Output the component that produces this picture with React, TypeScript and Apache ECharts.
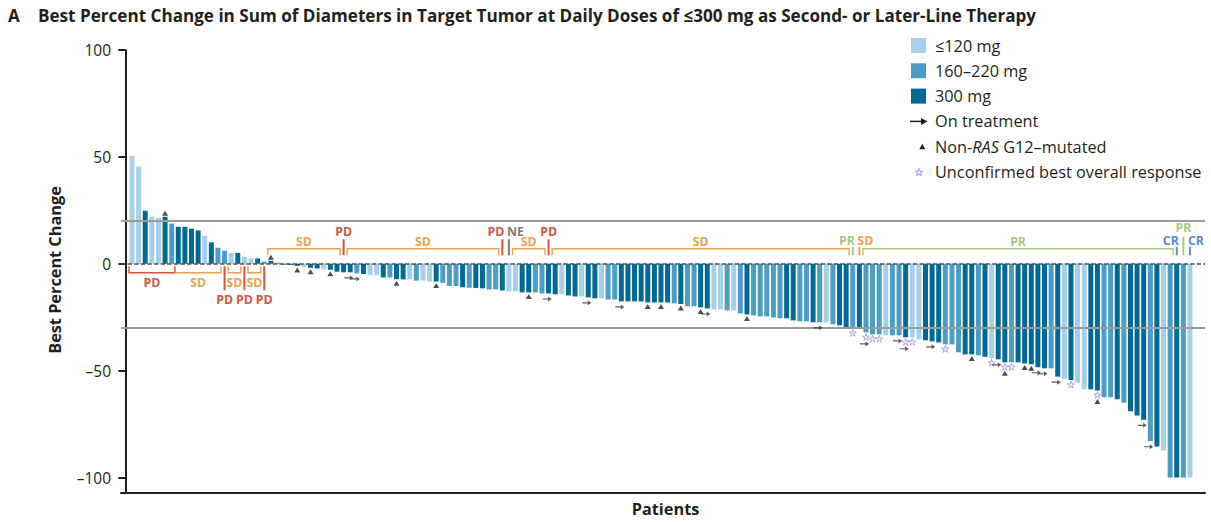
import React, { useEffect, useRef } from "react";
import * as echarts from "echarts";

// ---- data -------------------------------------------------------------
const bestChange: number[] = [
  50.5, 45.5, 24.8, 22.0, 21.5, 22.0, 18.8, 17.3, 17.3, 16.4,
  15.6, 13.1, 10.0, 7.5, 6.1, 5.1, 5.1, 3.3, 2.5, 2.5,
  1.0, 1.4, 0.5, -0.4, -0.5, -1.0, -1.6, -1.9, -2.2, -2.6,
  -2.8, -3.7, -4.0, -4.0, -4.5, -4.8, -5.3, -5.3, -6.4, -6.4,
  -7.2, -7.3, -7.3, -7.9, -7.9, -8.3, -8.3, -8.9, -10.4, -10.4,
  -11.0, -11.2, -11.3, -11.5, -12.0, -12.0, -12.5, -12.9, -12.9, -13.4,
  -13.4, -13.4, -13.9, -13.9, -14.3, -14.3, -14.8, -15.3, -15.3, -15.7,
  -16.2, -16.2, -16.7, -16.7, -17.6, -17.6, -17.6, -17.6, -18.1, -18.1,
  -18.1, -18.1, -18.5, -18.8, -19.9, -19.9, -20.4, -20.9, -21.3, -21.3,
  -21.8, -21.8, -23.2, -23.7, -24.1, -24.6, -24.6, -25.1, -25.5, -25.5,
  -26.5, -26.9, -26.9, -27.4, -27.4, -27.4, -28.3, -28.8, -29.8, -30.2,
  -30.2, -32.1, -33.0, -33.0, -33.5, -33.5, -33.5, -34.4, -34.4, -35.4,
  -35.8, -36.3, -36.8, -37.7, -37.7, -41.4, -42.4, -42.4, -42.8, -43.5,
  -44.2, -44.7, -46.1, -46.1, -46.1, -46.6, -47.0, -48.4, -48.9, -48.9,
  -52.8, -54.0, -54.4, -55.6, -58.7, -58.7, -59.3, -62.5, -62.5, -63.4,
  -65.0, -69.0, -71.0, -73.0, -83.0, -85.5, -87.4, -100, -100, -100,
  -100,
];

// L = ≤120 mg, M = 160–220 mg, D = 300 mg
const doseGroup: string[] = [
  "L","L","D","L","L","D","M","D","D","D",
  "D","L","D","M","M","L","D","L","L","D",
  "M","D","M","D","D","D","L","D","D","L",
  "D","D","D","D","M","D","L","L","D","M",
  "D","D","L","M","L","L","D","M","M","M",
  "D","M","D","D","M","M","D","L","L","D",
  "D","M","M","D","D","L","D","D","L","D",
  "D","L","M","M","D","D","D","D","D","D",
  "D","D","M","D","M","M","D","D","L","L",
  "M","L","M","D","M","M","M","M","M","D",
  "D","M","M","D","M","L","M","D","D","M",
  "D","M","M","M","L","M","M","D","L","L",
  "D","D","D","M","M","M","D","D","M","D",
  "L","D","D","M","D","D","D","D","D","M",
  "D","L","D","L","L","D","D","M","M","D",
  "M","D","D","D","M","D","L","M","D","M",
  "L",
];

const doseNames: Record<string, string> = { L: "≤120 mg", M: "160–220 mg", D: "300 mg" };

// patient numbers (1-based) carrying markers
const onTreatment: number[] = [34, 35, 64, 70, 75, 88, 105, 112, 117, 118, 122, 132, 138, 139, 141, 154, 155];
const nonRasG12: number[] = [6, 22, 26, 28, 31, 41, 47, 61, 79, 81, 84, 87, 94, 128, 133, 136, 137, 147];
const unconfirmed: number[] = [110, 112, 113, 114, 118, 119, 124, 131, 133, 134, 143, 147];

// best overall response groups: patient ranges
const responseGroups = [
  { from: 1, to: 7, label: "PD", side: "below" },
  { from: 8, to: 14, label: "SD", side: "below" },
  { from: 15, to: 15, label: "PD", side: "below" },
  { from: 16, to: 17, label: "SD", side: "below" },
  { from: 18, to: 18, label: "PD", side: "below" },
  { from: 19, to: 20, label: "SD", side: "below" },
  { from: 21, to: 21, label: "PD", side: "below" },
  { from: 22, to: 32, label: "SD", side: "above" },
  { from: 33, to: 33, label: "PD", side: "above" },
  { from: 34, to: 56, label: "SD", side: "above" },
  { from: 57, to: 57, label: "PD", side: "above", tag: "topLeft" },
  { from: 58, to: 58, label: "NE", side: "above", tag: "topRight" },
  { from: 59, to: 63, label: "SD", side: "above" },
  { from: 64, to: 64, label: "PD", side: "above" },
  { from: 65, to: 109, label: "SD", side: "above" },
  { from: 110, to: 110, label: "PR", side: "above", tag: "lowLeft" },
  { from: 111, to: 111, label: "SD", side: "above", tag: "lowRight" },
  { from: 112, to: 158, label: "PR", side: "above" },
  { from: 159, to: 159, label: "CR", side: "above", tag: "lowLeft" },
  { from: 160, to: 160, label: "PR", side: "above", tag: "high" },
  { from: 161, to: 161, label: "CR", side: "above", tag: "lowRight" },
];

const yTicks: number[] = [-100, -50, 0, 50, 100];
const refLines: number[] = [20, -30];

// ---- styles -----------------------------------------------------------
const doseColors: Record<string, string> = { L: "#a7d0e8", M: "#4c9cc4", D: "#016a94" };
const responseColors: Record<string, string> = {
  PD: "#d0573e",
  SD: "#e9a34d",
  PR: "#a7ca80",
  CR: "#5c8bc8",
  NE: "#7a7a7a",
};
const INK = "#231f20";
const FONT = "'Open Sans', 'Noto Sans', sans-serif";

const STAR_PATH = "path://M50,0 L61,35 L98,35 L68,57 L79,91 L50,70 L21,91 L32,57 L2,35 L39,35 Z";
const ARROW_PATH = "path://M0,4.1 L11,4.1 L11,1 L18,5 L11,9 L11,5.9 L0,5.9 Z";

function starPoints(cx: number, cy: number, R: number, r: number): number[][] {
  const pts: number[][] = [];
  for (let k = 0; k < 10; k++) {
    const a = -Math.PI / 2 + (k * Math.PI) / 5;
    const rad = k % 2 === 0 ? R : r;
    pts.push([cx + rad * Math.cos(a), cy + rad * Math.sin(a)]);
  }
  return pts;
}

function txt(x: number, y: number, text: string, opts: any = {}) {
  return {
    type: "text",
    x,
    y,
    silent: true,
    style: {
      text,
      fill: opts.fill || INK,
      font: opts.font || `16.3px ${FONT}`,
      textAlign: opts.align || "left",
      align: opts.align || "left",
      textVerticalAlign: "middle",
      verticalAlign: "middle",
      rich: opts.rich,
    },
    rotation: opts.rotation || 0,
  };
}

function buildOption() {
  const barData = bestChange.map((v, i) => ({
    value: [i + 1, v],
    itemStyle: { color: doseColors[doseGroup[i]] },
  }));

  const triData = nonRasG12.map((n) => {
    const v = bestChange[n - 1];
    const below = unconfirmed.includes(n) ? 11 : 4;
    return { value: [n, v], symbolOffset: [0, v > 0 ? -3.5 : below] };
  });
  const starData = unconfirmed.map((n) => ({ value: [n, bestChange[n - 1]], symbolOffset: [0, 4.5] }));
  const arrowData = onTreatment.map((n) => {
    const stacked = unconfirmed.includes(n) || nonRasG12.includes(n);
    return { value: [n, bestChange[n - 1]], symbolOffset: [-1.5, stacked ? 11.5 : 5.5] };
  });

  const legendRows = [45.5, 70.8, 96.1, 121.4, 146.7, 172];
  const legendEls: any[] = [];
  ["L", "M", "D"].forEach((g, k) => {
    legendEls.push({
      type: "rect",
      shape: { x: 911, y: legendRows[k] - 7.5, width: 15, height: 15 },
      style: { fill: doseColors[g] },
      silent: true,
    });
    legendEls.push(txt(935, legendRows[k], doseNames[g]));
  });
  legendEls.push({
    type: "line",
    shape: { x1: 910, y1: legendRows[3], x2: 923, y2: legendRows[3] },
    style: { stroke: INK, lineWidth: 1.5 },
    silent: true,
  });
  legendEls.push({
    type: "polygon",
    shape: { points: [[921, legendRows[3] - 3.5], [927.5, legendRows[3]], [921, legendRows[3] + 3.5]] },
    style: { fill: INK },
    silent: true,
  });
  legendEls.push(txt(935, legendRows[3], "On treatment"));
  legendEls.push({
    type: "polygon",
    shape: { points: [[922.3, legendRows[4] - 3], [925.3, legendRows[4] + 2.5], [919.3, legendRows[4] + 2.5]] },
    style: { fill: INK },
    silent: true,
  });
  legendEls.push(
    txt(935, legendRows[4], "{n|Non-}{i|RAS}{n| G12–mutated}", {
      rich: {
        n: { font: `16.3px ${FONT}`, fill: INK },
        i: { font: `italic 16.3px ${FONT}`, fill: INK },
      },
    })
  );
  legendEls.push({
    type: "polygon",
    shape: { points: starPoints(919, legendRows[5] + 0.5, 4, 1.7) },
    style: { fill: "#ece8f7", stroke: "#9a8fd0", lineWidth: 0.9 },
    silent: true,
  });
  legendEls.push(txt(935, legendRows[5], "Unconfirmed best overall response"));

  return {
    animation: false,
    grid: { left: 121, right: 6, top: 50, bottom: 29.5, containLabel: false },
    xAxis: {
      type: "value",
      min: -0.664,
      max: 163.27,
      axisLine: { show: true, onZero: false, lineStyle: { color: INK, width: 2 } },
      axisTick: { show: false },
      axisLabel: { show: false },
      splitLine: { show: false },
    },
    yAxis: {
      type: "value",
      min: -107,
      max: 100,
      axisLine: { show: true, lineStyle: { color: INK, width: 2 } },
      axisTick: { show: true, length: 7, lineStyle: { color: INK, width: 2 }, customValues: yTicks },
      axisLabel: {
        customValues: yTicks,
        margin: 10,
        fontSize: 15.5,
        fontFamily: FONT,
        color: INK,
        formatter: (v: number) => (v < 0 ? "–" + Math.abs(v) : String(v)),
      },
      splitLine: { show: false },
    },
    graphic: [
      txt(8, 15, "A", { font: `bold 17px ${FONT}` }),
      txt(38, 15, "Best Percent Change in Sum of Diameters in Target Tumor at Daily Doses of ≤300 mg as Second- or Later-Line Therapy", {
        font: `bold 17.1px ${FONT}`,
      }),
      txt(55, 270, "Best Percent Change", { font: `bold 16.3px ${FONT}`, align: "center", rotation: Math.PI / 2 }),
      txt(665.5, 509, "Patients", { font: `bold 16.3px ${FONT}`, align: "center" }),
      ...legendEls,
    ],
    series: [
      {
        type: "bar",
        name: "Best percent change",
        data: barData,
        barWidth: 5,
        markLine: {
          silent: true,
          symbol: "none",
          label: { show: false },
          data: [
            ...refLines.map((y) => ({ yAxis: y, lineStyle: { color: "#9b9b9b", width: 2, type: "solid" } })),
            { yAxis: 0, lineStyle: { color: "#4d4d4d", width: 1.6, type: [4.4, 2.2] } },
          ],
        },
      },
      {
        type: "scatter",
        name: "Non-RAS G12–mutated",
        data: triData,
        symbol: "triangle",
        symbolSize: [6, 5],
        itemStyle: { color: INK },
        z: 5,
      },
      {
        type: "scatter",
        name: "Unconfirmed best overall response",
        data: starData,
        symbol: STAR_PATH,
        symbolSize: 7,
        itemStyle: { color: "#ece8f7", borderColor: "#9a8fd0", borderWidth: 0.9 },
        z: 5,
      },
      {
        type: "scatter",
        name: "On treatment",
        data: arrowData,
        symbol: ARROW_PATH,
        symbolSize: [9, 5],
        itemStyle: { color: "#333333" },
        z: 5,
      },
      {
        type: "custom",
        name: "Best overall response",
        coordinateSystem: "cartesian2d",
        clip: false,
        silent: true,
        z: 6,
        encode: { x: [0, 1], y: 2 },
        data: responseGroups.map((g) => [g.from, g.to, 0]),
        renderItem: (params: any, api: any) => {
          const g: any = responseGroups[params.dataIndex];
          const color = responseColors[g.label];
          const p1 = api.coord([g.from, 0]);
          const p2 = api.coord([g.to, 0]);
          const y0 = p1[1];
          const half = api.size([1, 0])[0] * 0.46;
          const font = `bold 12.3px ${FONT}`;
          const children: any[] = [];
          const label = (x: number, y: number, align: string) => ({
            type: "text",
            x,
            y,
            style: {
              text: g.label,
              fill: color,
              font,
              textAlign: align,
              align,
              textVerticalAlign: "middle",
              verticalAlign: "middle",
            },
          });
          const vline = (x: number, ya: number, yb: number) => ({
            type: "line",
            shape: { x1: x, y1: ya, x2: x, y2: yb },
            style: { stroke: color, lineWidth: 2 },
          });
          if (g.from === g.to) {
            const x = p1[0];
            if (g.side === "below") {
              children.push(vline(x, y0 + 2.5, y0 + 26.5));
              children.push(label(x, y0 + 36, "center"));
            } else if (g.tag === "lowLeft" || g.tag === "lowRight") {
              children.push(vline(x, y0 - 17, y0 - 8.5));
              const left = g.tag === "lowLeft";
              children.push(label(left ? x + 2 : x - 2, y0 - 23.5, left ? "right" : "left"));
            } else if (g.tag === "topLeft" || g.tag === "topRight") {
              children.push(vline(x, y0 - 24.5, y0 - 8.5));
              const left = g.tag === "topLeft";
              children.push(label(left ? x + 2 : x - 2, y0 - 32, left ? "right" : "left"));
            } else if (g.tag === "high") {
              children.push(vline(x, y0 - 27, y0 - 8.5));
              children.push(label(x, y0 - 36.5, "center"));
            } else {
              children.push(vline(x, y0 - 24.5, y0 - 8.5));
              children.push(label(x, y0 - 32, "center"));
            }
          } else {
            const xa = p1[0] - half;
            const xb = p2[0] + half;
            const mid = (xa + xb) / 2;
            if (g.side === "below") {
              children.push({
                type: "polyline",
                shape: { points: [[xa, y0 + 2.5], [xa, y0 + 9], [xb, y0 + 9], [xb, y0 + 2.5]] },
                style: { stroke: color, lineWidth: 1.4, fill: "none" },
              });
              children.push(label(mid, y0 + 18.5, "center"));
            } else {
              children.push({
                type: "polyline",
                shape: { points: [[xa, y0 - 8.5], [xa, y0 - 15], [xb, y0 - 15], [xb, y0 - 8.5]] },
                style: { stroke: color, lineWidth: 1.4, fill: "none" },
              });
              children.push(label(mid, y0 - 22, "center"));
            }
          }
          return { type: "group", children };
        },
      },
    ],
  };
}

export default function App() {
  const ref = useRef<HTMLDivElement>(null);
  useEffect(() => {
    if (!ref.current) return;
    const chart = echarts.init(ref.current, undefined, { renderer: "svg" });
    chart.setOption(buildOption() as any);
    return () => chart.dispose();
  }, []);
  return (
    <div
      ref={ref}
      style={{ position: "absolute", left: 0, top: 0, width: 1211, height: 522, background: "#ffffff" }}
    />
  );
}
